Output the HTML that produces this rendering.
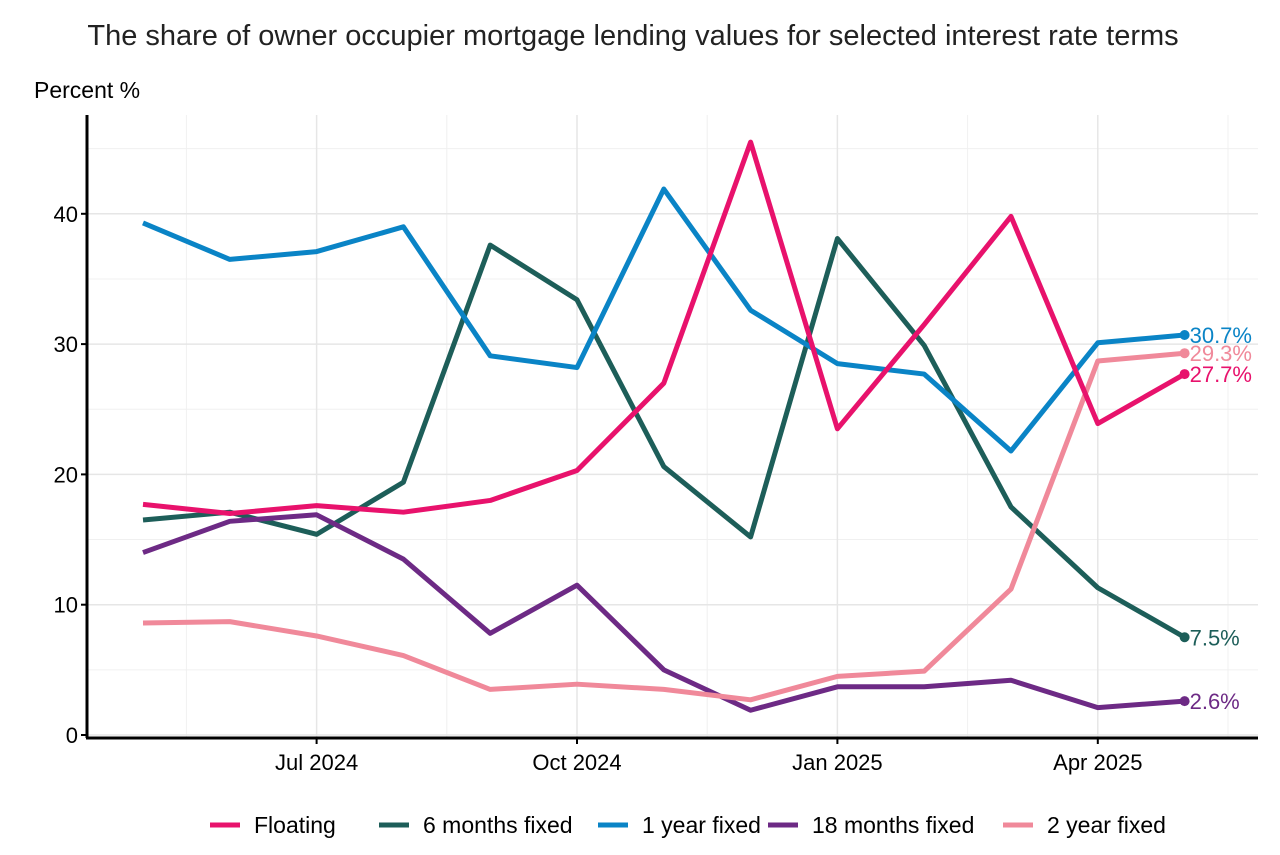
<!DOCTYPE html>
<html><head><meta charset="utf-8"><style>
body{margin:0;background:#fff;font-family:"Liberation Sans",sans-serif}
</style></head><body>
<svg id="c" width="1280" height="850" xmlns="http://www.w3.org/2000/svg"></svg>
<script>
const months=["2024-05","2024-06","2024-07","2024-08","2024-09","2024-10","2024-11","2024-12","2025-01","2025-02","2025-03","2025-04","2025-05"];
const floating=[17.7,17.0,17.6,17.1,18.0,20.3,27.0,45.5,23.5,31.5,39.8,23.9,27.7];
const sixMonths=[16.5,17.1,15.4,19.4,37.6,33.4,20.6,15.2,38.1,29.9,17.5,11.3,7.5];
const oneYear=[39.3,36.5,37.1,39.0,29.1,28.2,41.9,32.6,28.5,27.7,21.8,30.1,30.7];
const eighteenMonths=[14.0,16.4,16.9,13.5,7.8,11.5,5.0,1.9,3.7,3.7,4.2,2.1,2.6];
const twoYear=[8.6,8.7,7.6,6.1,3.5,3.9,3.5,2.7,4.5,4.9,11.2,28.7,29.3];
const yTicks=[0,10,20,30,40];
const xTickLabels=["Jul 2024","Oct 2024","Jan 2025","Apr 2025"];
const xTickIdx=[2,5,8,11];
const seriesNames=["Floating","6 months fixed","1 year fixed","18 months fixed","2 year fixed"];
const colors=["#e8126c","#1d5e59","#0a84c6","#6d2a85","#f0899a"];
const svg=document.getElementById('c');const NS="http://www.w3.org/2000/svg";
function mk(t,a,p){const e=document.createElementNS(NS,t);for(const k in a)e.setAttribute(k,a[k]);(p||svg).appendChild(e);return e;}
const x=i=>143+i*86.8; const y=v=>735-v*13.03;
const L=87,R=1258,T=115,B=738;
let t=mk('text',{x:633,y:45,'text-anchor':'middle','font-size':29,fill:'#222'});t.textContent="The share of owner occupier mortgage lending values for selected interest rate terms";

t=mk('text',{x:34,y:98,'font-size':23,fill:'#000'});t.textContent="Percent %";

for(let v=5;v<=45;v+=10){const g=mk('line',{x1:L,x2:R,y1:y(v),y2:y(v),stroke:'#f0f0f0','stroke-width':1});}
for(let k=-0.5;k<13;k+=3){const g=mk('line',{x1:x(k+1),x2:x(k+1),y1:T,y2:B,stroke:'#f0f0f0','stroke-width':1});}
yTicks.forEach(v=>{const g=mk('line',{x1:L,x2:R,y1:y(v),y2:y(v),stroke:'#e6e6e6','stroke-width':1.5});
 const tx=mk('text',{x:78,y:y(v)+8,'text-anchor':'end','font-size':22,fill:'#000'});tx.textContent=v;
 mk('line',{x1:L-6,x2:L,y1:y(v),y2:y(v),stroke:'#000','stroke-width':2});});
xTickIdx.forEach((i,j)=>{const g=mk('line',{x1:x(i),x2:x(i),y1:T,y2:B,stroke:'#e6e6e6','stroke-width':1.5});
 mk('line',{x1:x(i),x2:x(i),y1:B,y2:B+6,stroke:'#000','stroke-width':2});
 const tx=mk('text',{x:x(i),y:770,'text-anchor':'middle','font-size':22,fill:'#000'});tx.textContent=xTickLabels[j];});
let a=mk('line',{x1:L,x2:L,y1:T,y2:B,stroke:'#000','stroke-width':3});
a=mk('line',{x1:L-1,x2:R,y1:B,y2:B,stroke:'#000','stroke-width':3});
const data=[floating,sixMonths,oneYear,eighteenMonths,twoYear];
const order=[1,2,3,4,0];
order.forEach(s=>{const d=data[s];
 const p=mk('polyline',{points:d.map((v,i)=>x(i)+','+y(v)).join(' '),fill:'none',stroke:colors[s],'stroke-width':5,'stroke-linejoin':'round'});
 
 const n=d.length-1;const c=mk('circle',{cx:x(n),cy:y(d[n]),r:5,fill:colors[s]});
 const lt=mk('text',{x:x(n)+5,y:y(d[n])+8,'font-size':22,fill:colors[s]});lt.textContent=d[n].toFixed(1)+'%';});
const legX=[210,379,598,768,1003];
seriesNames.forEach((nm,s)=>{const g=mk('g',{});
 mk('line',{x1:legX[s],x2:legX[s]+30,y1:825,y2:825,stroke:colors[s],'stroke-width':5},g);
 const tx=mk('text',{x:legX[s]+44,y:833,'font-size':23,fill:'#000'},g);tx.textContent=nm;});
</script>
</body></html>
